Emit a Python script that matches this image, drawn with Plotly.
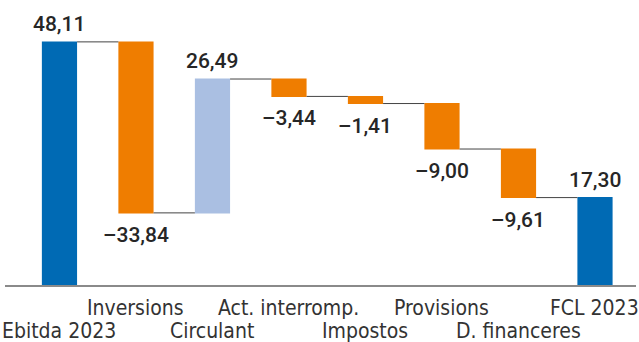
import plotly.graph_objects as go

# Cash-flow bridge, EBITDA to free cash flow (M€)
categories = ["Ebitda 2023", "Inversions", "Circulant", "Act. interromp.",
              "Impostos", "Provisions", "D. financeres", "FCL 2023"]
values = [48.11, -33.84, 26.49, -3.44, -1.41, -9.00, -9.61, 17.30]
measures = ["absolute", "relative", "relative", "relative",
            "relative", "relative", "relative", "total"]


def fmt(v):
    s = f"{abs(v):.2f}".replace(".", ",")
    return ("\u2013" + s) if v < 0 else s


xs = list(range(len(categories)))

fig = go.Figure(go.Waterfall(
    x=xs,
    y=values,
    measure=measures,
    width=0.46,
    increasing=dict(marker=dict(color="#aabfe2")),
    decreasing=dict(marker=dict(color="#ef7d00")),
    totals=dict(marker=dict(color="#006ab4")),
    connector=dict(mode="between", line=dict(color="#444444", width=1)),
    hoverinfo="skip",
))

# value labels: above the bar end for rises and totals, below it for falls
value_font = dict(family="Roboto, Arial, sans-serif", size=21, color="#262626", weight=500)
running = 0.0
for x, v, m in zip(xs, values, measures):
    if m == "absolute":
        running = v
        end, above = v, True
    elif m == "total":
        end, above = running, True
    else:
        running += v
        end, above = running, v > 0
    fig.add_annotation(
        x=x, y=end, xref="x", yref="y", text=fmt(v), showarrow=False,
        font=value_font,
        yanchor="bottom" if above else "top",
        yshift=4 if above else -8,
    )

# category labels on two alternating rows under the axis
cat_font = dict(family="Liberation Sans Narrow, DejaVu Sans Condensed, Arial Narrow, sans-serif",
                size=21, color="#333333")
for x, c in zip(xs, categories):
    fig.add_annotation(
        x=x, y=0, xref="x", yref="paper", text=c, showarrow=False,
        font=cat_font, yanchor="top",
        yshift=-9 if x % 2 else -32,
    )

fig.update_layout(
    width=639, height=342,
    margin=dict(l=5, r=3, t=0, b=57),
    paper_bgcolor="white", plot_bgcolor="white",
    showlegend=False,
    xaxis=dict(
        range=[-0.712, 7.536],
        showticklabels=False,
        showline=True, linecolor="#8a8a8a", linewidth=1.5,
        ticks="", showgrid=False, zeroline=False, automargin=False,
    ),
    yaxis=dict(range=[0, 56.4], visible=False, showgrid=False, zeroline=False,
               automargin=False),
)

fig.write_html("out.html")
